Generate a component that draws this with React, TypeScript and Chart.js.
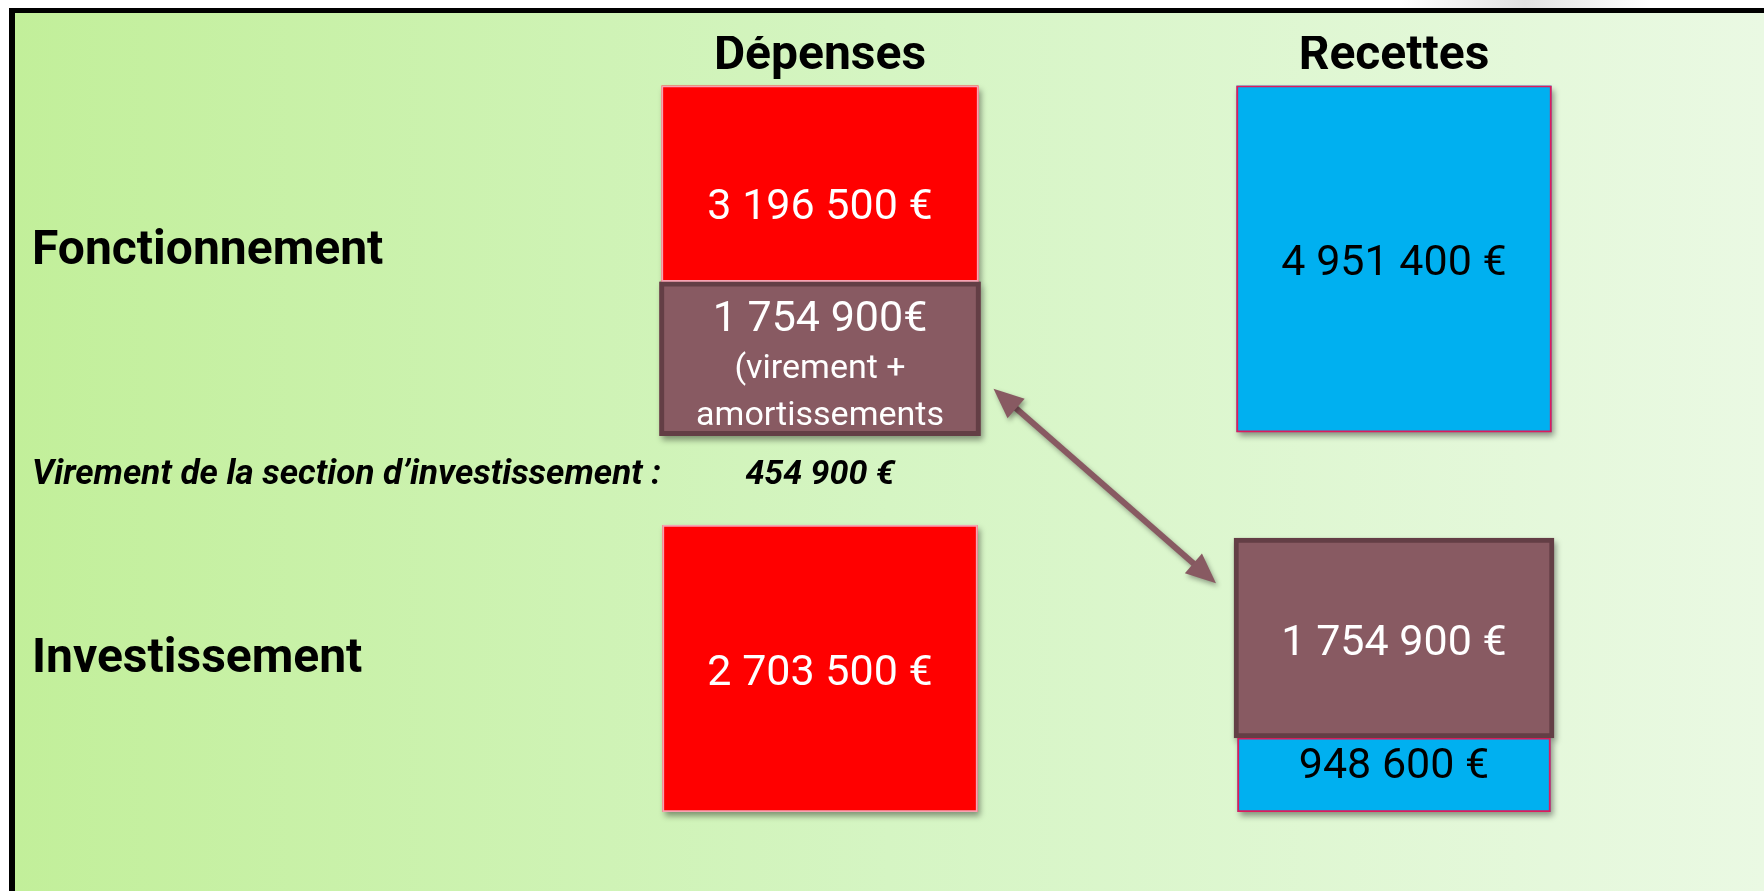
import React, { useEffect, useRef } from "react";
import { Chart, registerables } from "chart.js";

Chart.register(...registerables);

// ---------- data ----------
const categories = ["Dépenses", "Recettes"];
const sections = ["Fonctionnement", "Investissement"];

// amounts (€) per category [Dépenses, Recettes]
const depensesFonctionnement = [3196500, null];
const virementAmortissements = [1754900, null];
const recettesFonctionnement = [null, 4951400];
const depensesInvestissement = [2703500, null];
const recettesInvestVirement = [null, 1754900];
const recettesInvestAutres = [null, 948600];
const virementSectionInvestissement = 454900;

// schematic (non proportional) vertical extent of each block, on a 0–100 scale
const spanDepFonct = [[0, 27], null];
const spanVirAmort = [[27, 48.2], null];
const spanRecFonct = [null, [0, 47.7]];
const spanDepInvest = [[60.5, 100], null];
const spanRecInvVir = [null, [62.3, 89.8]];
const spanRecInvAutres = [null, [89.8, 100]];

// ---------- helpers ----------
const FONT = "Roboto, 'Open Sans', sans-serif";
const fmt = (n: number, sep = " ") =>
  String(n).replace(/\B(?=(\d{3})+(?!\d))/g, " ") + sep + "€";
const pick = (arr: (number | null)[]) => arr.find((v) => v !== null) as number;

const RED = "#FF0000";
const RED_BORDER = "#F7A3B3";
const BLUE = "#00B0F0";
const BLUE_BORDER = "#DF1A5C";
const BROWN = "#885A62";
const BROWN_BORDER = "#633E45";

const schemaPlugin = {
  id: "schema",
  beforeDraw(chart: any) {
    const { ctx, width, height } = chart;
    ctx.save();
    ctx.fillStyle = "#ffffff";
    ctx.fillRect(0, 0, width, height);
    // faint shadow above the frame, top right
    const rg = ctx.createLinearGradient(1400, 0, 1650, 0);
    rg.addColorStop(0, "rgba(205,205,205,0)");
    rg.addColorStop(0.5, "rgba(205,205,205,0.6)");
    rg.addColorStop(1, "rgba(205,205,205,0)");
    ctx.fillStyle = rg;
    ctx.fillRect(1400, 0, 250, 8);
    // green gradient panel
    const g = ctx.createLinearGradient(12, 0, width, 0);
    g.addColorStop(0, "#C2EF9A");
    g.addColorStop(0.5, "#D5F5C3");
    g.addColorStop(1, "#EAF9E3");
    ctx.fillStyle = g;
    ctx.fillRect(12, 10, width - 12, height - 10);
    // frame
    ctx.fillStyle = "#000000";
    ctx.fillRect(9, 8, width - 9, 5);
    ctx.fillRect(9, 8, 6, height - 8);
    ctx.restore();
  },
  beforeDatasetsDraw(chart: any) {
    const { ctx } = chart;
    chart.data.datasets.forEach((ds: any, di: number) => {
      const meta = chart.getDatasetMeta(di);
      meta.data.forEach((el: any, i: number) => {
        if (ds.data[i] === null) return;
        const p = el.getProps(["x", "y", "base", "width"], true);
        const top = Math.min(p.y, p.base);
        const h = Math.abs(p.base - p.y);
        ctx.save();
        ctx.shadowColor = "rgba(0,0,0,0.4)";
        ctx.shadowBlur = 6;
        ctx.shadowOffsetX = 2;
        ctx.shadowOffsetY = 4;
        ctx.fillStyle = ds.backgroundColor;
        ctx.fillRect(p.x - p.width / 2, top, p.width, h);
        ctx.restore();
      });
    });
  },
  afterDatasetsDraw(chart: any) {
    const { ctx } = chart;
    const boxes: Record<string, any> = {};
    const rows: { top: number; bottom: number }[] = [
      { top: Infinity, bottom: -Infinity },
      { top: Infinity, bottom: -Infinity },
    ];
    chart.data.datasets.forEach((ds: any, di: number) => {
      const meta = chart.getDatasetMeta(di);
      meta.data.forEach((el: any, i: number) => {
        if (ds.data[i] === null) return;
        const p = el.getProps(["x", "y", "base", "width"], true);
        const top = Math.min(p.y, p.base);
        const bottom = Math.max(p.y, p.base);
        boxes[ds.key] = { left: p.x - p.width / 2, right: p.x + p.width / 2, top, bottom, cx: p.x };
        const r = rows[ds.section];
        r.top = Math.min(r.top, top);
        r.bottom = Math.max(r.bottom, bottom);
        // labels
        const cy = (top + bottom) / 2;
        ctx.save();
        ctx.fillStyle = ds.labelColor;
        ctx.textAlign = "center";
        ctx.textBaseline = "alphabetic";
        ds.labelLines.forEach((line: any) => {
          ctx.font = `${line.size}px ${FONT}`;
          ctx.fillText(line.text, p.x, cy + line.dy);
        });
        ctx.restore();
      });
    });

    // section labels
    ctx.save();
    ctx.fillStyle = "#000000";
    ctx.textAlign = "left";
    ctx.textBaseline = "alphabetic";
    ctx.font = `bold 48px ${FONT}`;
    sections.forEach((s, i) => {
      const c = (rows[i].top + rows[i].bottom) / 2;
      ctx.fillText(s, 32, c + 3);
    });
    // virement line
    const gapMid = (rows[0].bottom + rows[1].top) / 2;
    ctx.font = `italic bold 35px ${FONT}`;
    ctx.fillText("Virement de la section d’investissement :", 32, gapMid + 4);
    ctx.textAlign = "center";
    ctx.font = `italic bold 34px ${FONT}`;
    ctx.fillText(fmt(virementSectionInvestissement), chart.scales.x.getPixelForValue(0), gapMid + 4);
    ctx.restore();

    // double arrow between the two transfer blocks
    const a = boxes.virAmort;
    const b = boxes.recInvVir;
    if (a && b) {
      const x1 = a.right + 13, y1 = a.bottom - 47;
      const x2 = b.left - 18, y2 = b.top + 45;
      const ang = Math.atan2(y2 - y1, x2 - x1);
      const L = 30, W = 13;
      ctx.save();
      ctx.shadowColor = "rgba(0,0,0,0.35)";
      ctx.shadowBlur = 5;
      ctx.shadowOffsetX = 2;
      ctx.shadowOffsetY = 3;
      ctx.strokeStyle = BROWN;
      ctx.fillStyle = BROWN;
      ctx.lineWidth = 6;
      ctx.beginPath();
      ctx.moveTo(x1 + Math.cos(ang) * (L - 4), y1 + Math.sin(ang) * (L - 4));
      ctx.lineTo(x2 - Math.cos(ang) * (L - 4), y2 - Math.sin(ang) * (L - 4));
      ctx.stroke();
      const head = (tx: number, ty: number, dir: number) => {
        const bx = tx - Math.cos(dir) * L, by = ty - Math.sin(dir) * L;
        ctx.beginPath();
        ctx.moveTo(tx, ty);
        ctx.lineTo(bx + Math.cos(dir + Math.PI / 2) * W, by + Math.sin(dir + Math.PI / 2) * W);
        ctx.lineTo(bx - Math.cos(dir + Math.PI / 2) * W, by - Math.sin(dir + Math.PI / 2) * W);
        ctx.closePath();
        ctx.fill();
      };
      head(x2, y2, ang);
      head(x1, y1, ang + Math.PI);
      ctx.restore();
    }
  },
};

const one = (text: string, size: number, dy = 0) => [{ text, size, dy: dy + size * 0.355 }];

export default function App() {
  const ref = useRef<HTMLCanvasElement>(null);
  useEffect(() => {
    if (!ref.current) return;
    const common = { grouped: false, borderSkipped: false as const };
    const chart = new Chart(ref.current, {
      type: "bar",
      data: {
        labels: categories,
        datasets: [
          {
            ...common,
            key: "virAmort",
            section: 0,
            label: "Virement + amortissements",
            data: spanVirAmort as any,
            backgroundColor: BROWN,
            borderColor: BROWN_BORDER,
            borderWidth: 5,
            barThickness: 321,
            labelColor: "#ffffff",
            labelLines: [
              { text: fmt(pick(virementAmortissements), ""), size: 43, dy: -28 },
              { text: "(virement +", size: 34, dy: 19 },
              { text: "amortissements", size: 34, dy: 66 },
            ],
          },
          {
            ...common,
            key: "recInvVir",
            section: 1,
            label: "Recettes d'investissement (virement)",
            data: spanRecInvVir as any,
            backgroundColor: BROWN,
            borderColor: BROWN_BORDER,
            borderWidth: 5,
            barThickness: 320,
            labelColor: "#ffffff",
            labelLines: one(fmt(pick(recettesInvestVirement)), 43, 2),
          },
          {
            ...common,
            key: "depFonct",
            section: 0,
            label: "Dépenses de fonctionnement",
            data: spanDepFonct as any,
            backgroundColor: RED,
            borderColor: RED_BORDER,
            borderWidth: 2,
            barThickness: 317,
            labelColor: "#ffffff",
            labelLines: one(fmt(pick(depensesFonctionnement)), 43, 20),
          },
          {
            ...common,
            key: "depInvest",
            section: 1,
            label: "Dépenses d'investissement",
            data: spanDepInvest as any,
            backgroundColor: RED,
            borderColor: RED_BORDER,
            borderWidth: 2,
            barThickness: 315,
            labelColor: "#ffffff",
            labelLines: one(fmt(pick(depensesInvestissement)), 43, 1),
          },
          {
            ...common,
            key: "recFonct",
            section: 0,
            label: "Recettes de fonctionnement",
            data: spanRecFonct as any,
            backgroundColor: BLUE,
            borderColor: BLUE_BORDER,
            borderWidth: 2,
            barThickness: 315,
            labelColor: "#000000",
            labelLines: one(fmt(pick(recettesFonctionnement)), 43, 1),
          },
          {
            ...common,
            key: "recInvAutres",
            section: 1,
            label: "Autres recettes d'investissement",
            data: spanRecInvAutres as any,
            backgroundColor: BLUE,
            borderColor: BLUE_BORDER,
            borderWidth: 2,
            barThickness: 313,
            labelColor: "#000000",
            labelLines: one(fmt(pick(recettesInvestAutres)), 43, -12),
          },
        ] as any,
      },
      options: {
        animation: false,
        responsive: false,
        devicePixelRatio: 1,
        events: [],
        layout: { padding: { top: 36, left: 533, right: 83, bottom: 79 } },
        plugins: { legend: { display: false }, tooltip: { enabled: false } },
        scales: {
          x: {
            position: "top",
            offset: true,
            grid: { display: false },
            border: { display: false },
            ticks: {
              color: "#000000",
              padding: -8,
              font: { family: FONT, weight: "bold", size: 48 },
            },
          },
          y: { display: false, min: 0, max: 100, reverse: true },
        },
      },
      plugins: [schemaPlugin],
    });
    return () => chart.destroy();
  }, []);
  return (
    <div style={{ position: "absolute", left: 0, top: 0, width: 1764, height: 891, overflow: "hidden" }}>
      <canvas ref={ref} width={1764} height={891} style={{ display: "block", width: 1764, height: 891 }} />
    </div>
  );
}
